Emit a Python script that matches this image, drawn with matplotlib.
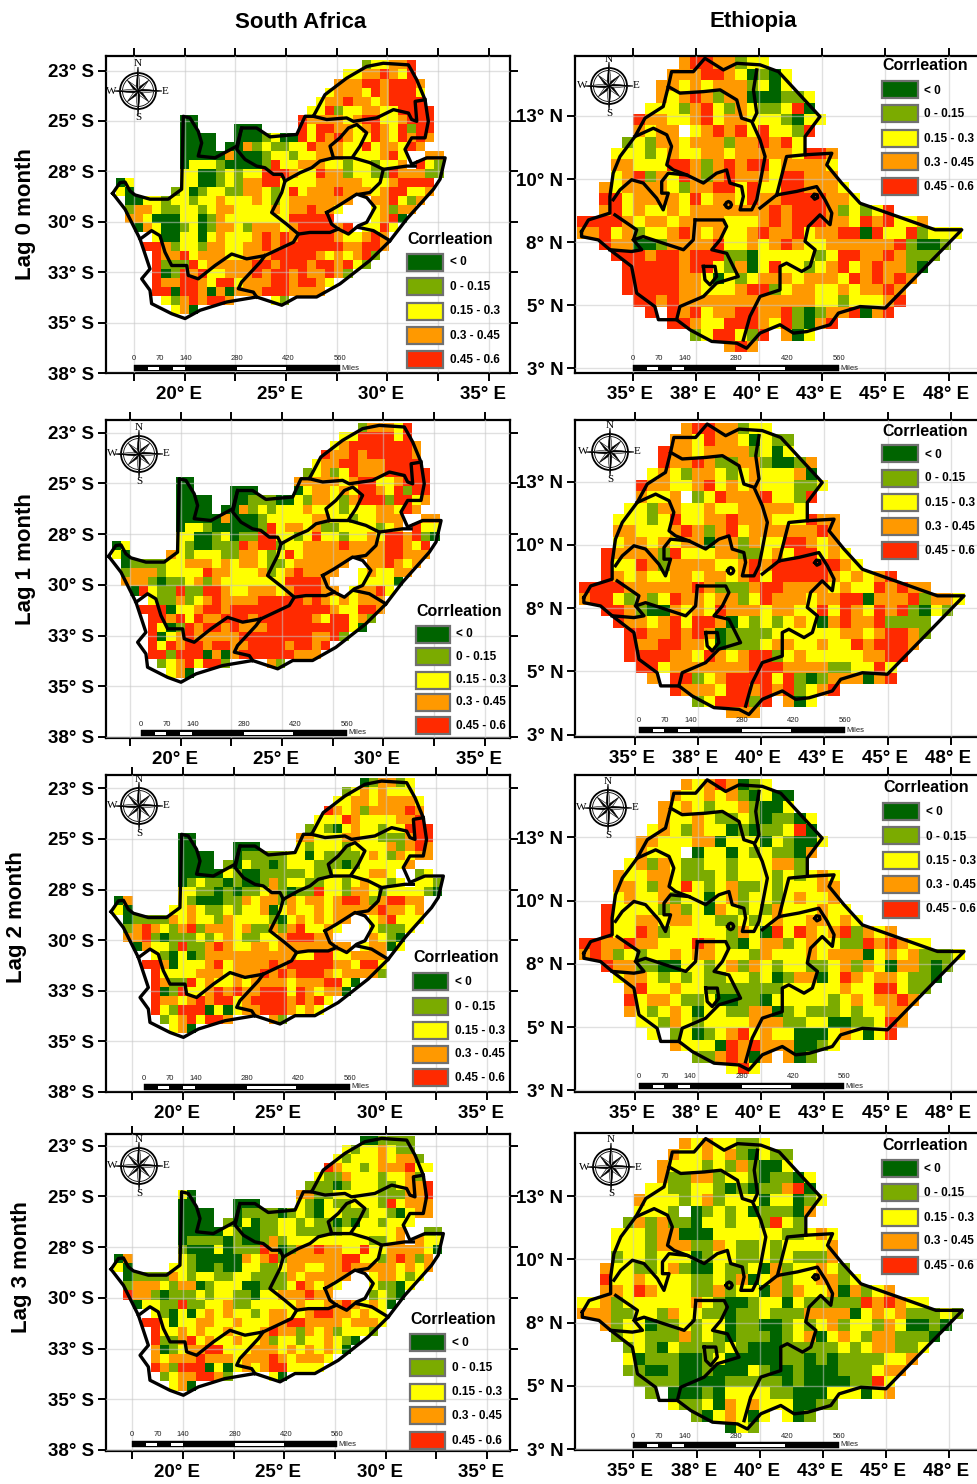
import numpy as np
import matplotlib
matplotlib.use("Agg")
import matplotlib.pyplot as plt
from matplotlib.colors import ListedColormap, BoundaryNorm
from matplotlib.patches import Rectangle, Circle, Polygon
from matplotlib.transforms import ScaledTranslation

plt.rcParams['font.family'] = ['Liberation Sans', 'DejaVu Sans']

W, H = 977, 1484

# correlation classes, one letter per cell
CLASSES = "dgyor"
CLASS_COLORS = ["#006400", "#7BAB00", "#FFFF00", "#FF9900", "#FF2A00"]
CLASS_LABELS = ["< 0", "0 - 0.15", "0.15 - 0.3", "0.3 - 0.45", "0.45 - 0.6"]
LEGEND_TITLE = "Corrleation"

CELL = 0.449  # degrees
SA_LON0, SA_LAT0 = 16.61, -22.0
ETH_LON0, ETH_LAT0 = 32.78, 14.82

# first filled column of every row
SA_START = [27, 25, 24, 23, 22, 21, 7, 7, 7, 7, 7, 7, 7, 0, 0, 1, 1, 1, 2, 4, 3, 4, 4, 4, 4, 4, 5, 6]
ETH_START = [9, 8, 7, 7, 6, 5, 5, 4, 3, 3, 3, 2, 2, 2, 0, 0, 2, 3, 4, 4, 4, 5, 6, 8, 10, 13]

SA_LAG0 = [
    "gyyoor", "yyooroyr", "ooorrorrro", "yoooyrorrry", "yoorooyorrrr", "yyrgyyooyyrrrr",
    "dd...........rooooyorryyorrr",
    "dd....ddd....ryrrooyoroyrgrr",
    "dddd..dddgyddryroroyyroyroro",
    "dddd.ddogyggyyroooyyryooyro",
    "dddddodddgyygyyoooyyyyory..oo",
    "dyyygddddgryyoooyygyygyyo.ryg",
    "yyddgygyyrrroyyroogyyggrooogg",
    "dy.....yyddgygoorryyyyoooooyyyorrrr",
    "yd....gydgyyggooygyryoooroooyorryyo",
    "ddyygyygyyoyyyoygyooooooo..oorygo",
    "gooyggyygyooyyyyoyoorooy...yogoo",
    "ooydddyydgoyyyyyyyrrrrr....yord",
    "doyddgydgooygoooyorrrror.yyry",
    "yddyydyoyyyorororrrroyyoro",
    "rrogyygooyyoororrrrrrroorro",
    "rooryoooyyooorrrrroyoyorg",
    "rgggryooooorrorrrorroryg",
    "rdgroryyooororroroorog.",
    "roorroyrryooorrorroy",
    "rrdrrododooorrroooo",
    "ygororro....yg",
    "yod",
]
SA_LAG1 = [
    "goooyr", "yyrrrryr", "yorrrrrrro", "roororrrrro", "yoorrooorrrr", "gyogyrooorrrrr",
    "dd...........oooooyorryyorrr",
    "dd....ddd....dyooyoyrroyrgrr",
    "dddd..ddgggddygooygorrrgrryo",
    "dddd.ddogygyyyoyyygyyyooyro",
    "dddddodddgyyyyyooyygyyooo..oo",
    "dyygdddddgryooyoggyyyygyo.ryy",
    "yyddgydggrryygyryygyyoyrrorgd",
    "dy.....ygddgggrorrgyyooooroooorroyr",
    "yd....oygyyyggooygyryooooooooorrooo",
    "dggggyyoooyoyooyggyoooooo..ooroyo",
    "gooogyyyyrooyyyogyoroooo..yoyyoo",
    "ooogdggyogoyyyyyyyrrrro...yyyyd",
    "dryggrggrroyyoooyorrroo.yoory",
    "yggogyoroooorrrrroroyoyooo",
    "rrrdyyorrorrrrrrrrrrroyyrro",
    "rroryroorrrorrrrrroyrryog",
    "rydgrorrorooorrrrrrrrryd",
    "rdyorooooorrrrrrrroorg.",
    "ryrorrorroorrrrorror",
    "rrgrrrdodorrrrrrooo",
    "gyoryrrg....og",
    "yod",
]
SA_LAG2 = [
    "dgoogy", "gyoyoyyy", "yyooyooooy", "royogooooro", "yyyroyyyyoor", "gygdyoyygyyrrr",
    "dd...........ooyyyooyygggorr",
    "dd....ddd....ygyyygyyyyogoro",
    "dddd..dgggggyydyggggyoygoyoo",
    "dddd.gdyggdgyyygggdgyyyyyo.",
    "dddddygddgggggyggyyyyooy..gy",
    "dgyggdgddgogyyggyygyoyygy.yyg",
    "yyggdgdggyogdggryygooygyyyygd",
    "do.....ygdddggoyoogoyooyorrogorroo",
    "yd....yyoyggygyyodyoyyoyooooorooyo",
    "dggggoyoyygoyyyygdyoyoyoo..yoryyy",
    "goroygorgoooyoggogoryyoy...ygggy",
    "oorgdgggygyoyggyyorrroo....oygd",
    "doyygrggoroyyooyoooooooo.yoody",
    "ygdydgooooooooooyyrryyoooo",
    "rrodyyyoryoooororrrrrooyrry",
    "ryyyyoooyooorororrroyoooog",
    "roggryoyyoyooooyooorryd.",
    "rdgryyororoorrryroyood.",
    "rooyororryorrrrorory",
    "rygrrrdydyoorrroyoy",
    "gyoryrro....og",
    "yod",
]
SA_LAG3 = [
    "ddgggg", "ygyyoygg", "ygyyyoyoog", "royygyoooryy", "yggoyyygyyog", "gggdgyyyggyoor",
    "yd...........ooggyyyyygggoor",
    "dd....ddd....ygdyggyyygryooo",
    "dddd..dggggdgygdyygggyygdyoo",
    "dddd.gdydggyygyggdgdyygyyy.",
    "dddddygddggyygggggyyyyyyo..gg",
    "dggggdgddgogyyyyyyyyyggyo.oyy",
    "gdddydgggrodgoorooyyryyooooyd",
    "do.....ygdddddoyorgoooooorryygorogo",
    "yd....yygddgddyyggyooyyooroooooyoyo",
    "dggggoygyyggyyggggoyooooo..yooygy",
    "goooygoodgyyyddgggyroyoy...yggdy",
    "roogdgggygyyggdyyoooroo....gygd",
    "dyyggrggyyoggyyyyyoyyooroyoyd",
    "ygdydyoyoyygyooyyorrooyoyy",
    "rrydyyooyyoyyyoorrooooyoooy",
    "ryyoyoyyoyyyoroogoyogyyyg",
    "rggoryoyyoyyogyygyyoygd.",
    "odgyoorryyyoooyoyoyoyd.",
    "oyooorooo" "yooor" "oyoooy",
    "rogrrrdydyoyorryyyy",
    "gyoorrog....yd",
    "yod",
]

ETH_LAG0 = [
    "orroogyy", "ooorroydgdy", "ooyoyooogydy", "oyorogoodddggy", "yyygorygoyggyrd",
    "rooyyoryooyyygdyy", "oyoo.yororyryygr", "gygooyooogoorory", "yyygyoyyooyoooooyrro",
    "ooyyyrrogororryooooy", "yorgoyrogoroooyrrooo", "oyooooygoorryryyrroooy",
    "rryooooyryooyroorrrrooy", "oryoyyoyooooooororrrogygyr",
    "rrrroyooyooooyyyororrrooyroryyo",
    "ooryogyyoroyoyyorooryoorrdryyrgyyy",
    "rooddgooooryyoyoroyyoooooorgddg",
    "rrrorrorrrggdyyyyygyrroorоggg".replace("о", "o"),
    "rrrrrorrygodyryygyoryoroogd",
    "rrrrrooydygyoooyoooyrororo",
    "rrrrrooyyyorrgyooyyoyooro",
    "rrorooooooooooooyygyyyor",
    "r.roryoorroorgdgoordor",
    "rroyyrrroyrgdor",
    "gyrrygr.ody",
    "oro",
]
ETH_LAG1 = [
    "orroogyy", "ooyrooydygg", "rooyoooogydy", "rooroggoogddgo", "yoygooygyoyyyod",
    "rooyyoryoyoyyyggy", "oyyo.gyroooryygr", "yygooyyoyyoooooy",
    "yyygyryyoorоooyyyroo".replace("о", "o"),
    "ooyyyorogoryooooooro",
    "yooyoyoodoogoyyrroyo",
    "roooogryyyooggyoyrryoy",
    "ryyrogooooyyororrrrrroy",
    "royoyyooyooyoryrrrrroyoyor",
    "rrrroooooorogggorrooooyoyyroroo",
    "orrygogyrooyoogyroooyoorrdooorgooy",
    "rrogddoyoyroooyooyyryroyrorgdyg",
    "rooyoryrrodygygyoydoroorgggg.",
    "rroororodggggyyyyyyooyorrog",
    "roorrooydgggyooyyoyyrorrro",
    "rrrrooyroyorrgyoyyyyyoorr",
    "rryooooooorrrooooggyyry",
    "o.rrgyorrrryrgdgooodor",
    "roooyrrorоrgyor".replace("о", "o"),
    "gyrrrgr.ody",
    "ooo",
]
ETH_LAG2 = [
    "oyorodgy", "oyyoyogdydd", "oyoygyyogddy", "oyyoyggygdggdy", "yoygoyydgdggyrd",
    "ooyyyoodyyydygddy", "oyyy.dyydygyggdo", "yogoyggyygyyyoog", "oyyooygggygyyygygyoy",
    "ooygoyrygyoggygyyyoo", "yoyyogyydyogyygyoyyo", "ryyyygogydoygygoyyyoyy",
    "ryyooyooyyggygyoyyooyoy", "ryyrogyyyyygoydryroyorgoyo",
    "rroorooyyyroygdyoogyoyyggroroyy",
    "orogygyyoyooyyygoyyyoyooodyoyogggy",
    "rooggddyygyogoygyyggyogoydoogdg",
    "yooygygyggyygydgoodyroyooyggd",
    "oryyoyygggggggyyyyyoyyrrygg",
    "ryooyggyddggdyyyyygyoyooro",
    "oygyoydyyggoodgygggygyyoo",
    "yygoygyyyyoooggyyddggyro",
    "y.gydgyoryoyydddyoydyr",
    "oyyydroroooddgy",
    "ggorodo.odg",
    "yry",
]
ETH_LAG3 = [
    "oyoyyggy", "oyyoyogdygg", "oyyygygogddy", "oggoogyygdggdy", "yyggyygdgdggord",
    "oyyygyogyyydyydgy", "yyyg.dgygydgggdo", "gogoggdyygyygryg",
    "yyygoodddyyyyyyggyoy",
    "yyygoooggoyggygyyyyo",
    "gyygyyydgyyggygygggo",
    "oyyggyogddyggydogyyoyg",
    "ryyoyyyyggygodyogyyoogy",
    "ooyroyyyggogyydogoyyodogyo",
    "yyogyyyyyyoygddgyydygggggroroyy",
    "oooggyygoyyggdggyggg" "oooodyoyogggyg",
    "ogyydggygyydggddgygyogyygoyddgd",
    "gyygggogygdgggdgyodyoygoogggd",
    "gygdyggggygdddgggggygyooggy",
    "ydgggddgydddddggdgdggggyyoo"[:26],
    "ggddgddgdddygddgdddgggyoo",
    "ggggddddgggggdgddddggry",
    "g.dddgdyyyyggdddyyydyo",
    "yggydoyoyyyddgg",
    "gdyoydy.ydg",
    "dyg",
]

SA_GRIDS = [SA_LAG0, SA_LAG1, SA_LAG2, SA_LAG3]
ETH_GRIDS = [ETH_LAG0, ETH_LAG1, ETH_LAG2, ETH_LAG3]

SA_OUTER = [(16.45, -28.59), (16.81, -28.06), (17.06, -28.03), (17.30, -28.47), (17.55, -28.67), (18.29, -28.88),
            (19.19, -28.88), (19.85, -28.39), (19.93, -24.77), (20.26, -24.85), (20.67, -25.51), (20.84, -26.09),
            (20.67, -26.74), (21.50, -26.83), (22.57, -26.25), (22.81, -25.35), (23.55, -25.35), (24.21, -25.79),
            (25.53, -25.67), (25.94, -24.77), (26.35, -24.77), (26.92, -23.70), (27.99, -22.88), (28.98, -22.30),
            (29.80, -22.14), (31.04, -22.22), (31.45, -22.96), (31.86, -23.95), (32.02, -25.02), (31.86, -25.84),
            (31.20, -25.84), (30.87, -26.41), (31.20, -27.15), (31.94, -26.83), (32.85, -26.83), (32.60, -27.89),
            (32.27, -28.39), (31.61, -29.13), (30.95, -29.87), (30.13, -30.94), (29.14, -31.92), (27.66, -33.08),
            (26.51, -33.73), (25.53, -33.73), (24.79, -34.14), (23.55, -33.73), (22.07, -33.98), (20.76, -34.39),
            (20.02, -34.80), (19.36, -34.56), (18.37, -34.06), (18.29, -33.40), (17.88, -32.83), (18.29, -32.34),
            (17.80, -30.86), (17.06, -29.38), (16.45, -28.59)]
SA_LINES = [
    [(26.35, -24.77), (27.01, -24.93), (27.99, -24.85), (28.32, -25.02), (29.47, -24.85), (30.30, -24.44),
     (31.04, -24.61), (31.20, -24.93), (31.45, -25.02), (31.37, -24.03), (31.86, -23.95)],
    [(22.81, -25.35), (22.65, -26.09), (22.57, -26.41), (22.98, -26.91), (23.55, -27.24), (23.96, -27.32),
     (24.38, -27.65), (24.79, -27.65), (24.95, -27.98)],
    [(24.95, -27.98), (25.69, -27.57), (26.27, -27.32), (26.68, -26.99), (27.34, -26.83), (27.83, -26.83),
     (28.32, -26.83), (29.14, -27.07), (29.80, -27.40), (29.64, -28.06), (29.14, -28.55), (28.65, -28.63)],
    [(29.80, -27.40), (30.95, -27.24), (31.37, -27.24)],
    [(27.34, -26.83), (27.17, -26.25), (27.66, -25.84), (28.08, -25.35), (28.49, -25.18), (28.98, -25.59),
     (28.65, -26.25), (28.32, -26.74)],
    [(24.95, -27.98), (24.79, -28.55), (24.29, -29.54), (25.03, -30.12), (25.61, -30.61), (26.18, -30.53),
     (27.17, -30.53), (27.58, -30.36)],
    [(27.01, -29.54), (27.58, -29.21), (28.49, -28.63), (28.98, -28.80), (29.39, -29.29), (28.98, -30.03),
     (28.57, -30.20), (28.08, -30.61), (27.58, -30.36), (27.25, -30.12), (27.01, -29.54)],
    [(17.80, -30.86), (18.37, -30.44), (18.78, -30.69), (19.03, -31.51), (19.36, -32.17), (20.10, -32.17),
     (20.18, -32.66), (20.67, -32.83), (21.50, -32.17), (22.32, -31.60), (23.06, -31.84), (23.96, -31.68),
     (25.36, -31.02), (25.61, -30.61)],
    [(23.96, -31.68), (23.72, -32.01), (22.81, -32.99), (22.65, -33.32), (23.39, -33.49), (23.55, -33.73)],
    [(28.57, -30.28), (29.31, -30.44), (30.13, -30.94)],
]
ETH_OUTER = [(32.98, 7.92), (33.25, 8.38), (34.10, 8.65), (34.10, 9.31), (34.23, 10.23), (34.50, 10.89), (35.09, 11.68),
             (35.49, 12.41), (36.21, 12.87), (36.41, 13.66), (36.54, 14.25), (37.40, 14.25), (37.86, 14.78),
             (38.59, 14.32), (39.12, 14.58), (40.04, 14.52), (40.77, 14.25), (42.41, 12.47), (41.82, 11.68),
             (41.82, 10.96), (42.88, 11.02), (42.68, 10.56), (43.27, 9.84), (44.00, 9.04), (46.97, 7.99), (48.02, 7.99),
             (44.99, 4.89), (44.00, 4.95), (43.14, 4.69), (42.81, 4.23), (41.89, 3.96), (41.36, 3.90), (40.83, 4.23),
             (40.04, 3.90), (39.51, 3.30), (39.12, 3.50), (38.13, 3.57), (37.27, 4.03), (36.74, 4.43), (36.02, 4.43),
             (35.88, 4.95), (35.16, 5.48), (34.96, 6.54), (34.10, 7.20), (33.64, 7.59), (32.98, 7.72), (32.98, 7.92)]
ETH_LINES = [
    [(36.41, 13.66), (36.87, 13.40), (37.80, 13.46), (38.46, 13.53), (39.12, 13.13), (39.31, 12.41), (39.71, 12.28),
     (40.04, 11.55), (40.24, 10.89), (40.04, 9.84), (39.91, 9.18), (39.71, 8.78), (39.25, 8.78), (39.38, 9.31),
     (39.31, 9.70), (38.85, 9.84), (38.72, 10.36), (38.32, 10.23), (37.80, 9.84), (37.14, 10.16), (36.41, 10.23),
     (36.15, 9.90), (36.15, 9.44), (36.41, 9.44), (36.21, 8.78), (35.95, 9.24), (35.42, 9.84), (34.96, 9.97),
     (34.50, 9.57), (34.23, 9.18)],
    [(35.09, 11.68), (35.82, 12.01), (36.35, 11.75), (36.54, 11.29), (36.35, 10.56), (36.61, 10.36), (37.14, 10.16)],
    [(39.91, 14.32), (39.78, 13.53), (39.91, 12.61), (39.78, 12.34)],
    [(40.04, 8.85), (40.70, 9.37), (41.49, 9.51), (42.28, 9.70), (42.61, 9.18), (42.88, 8.65), (42.81, 8.19),
     (42.41, 8.58), (41.95, 8.12), (41.82, 7.53), (42.22, 7.20), (42.02, 6.54), (41.69, 6.34), (41.09, 6.67),
     (40.83, 6.54), (40.83, 5.61), (40.04, 5.35), (39.64, 4.56), (39.38, 3.63)],
    [(40.70, 9.37), (41.09, 10.89), (41.82, 10.96)],
    [(37.47, 8.38), (38.59, 8.38), (38.72, 8.12), (38.46, 7.59), (38.13, 7.20), (38.72, 7.06), (39.18, 6.14),
     (38.32, 5.88), (37.80, 5.35), (36.87, 4.95), (36.74, 4.43)],
    [(37.47, 8.38), (37.40, 7.59), (37.01, 7.20), (36.21, 7.46), (35.42, 7.72), (35.03, 7.59), (35.16, 7.99),
     (34.30, 8.58)],
    [(35.03, 7.59), (35.36, 7.20), (34.96, 7.13), (34.10, 7.20)],
    [(37.80, 6.54), (38.26, 6.54), (38.32, 6.14), (38.06, 5.81), (37.86, 6.01), (37.80, 6.54)],
    [(38.67, 8.98), (38.71, 9.07), (38.79, 9.11), (38.87, 9.07), (38.91, 8.98), (38.87, 8.89), (38.79, 8.85),
     (38.71, 8.89), (38.67, 8.98)],
    [(42.12, 9.30), (42.18, 9.40), (42.30, 9.38), (42.32, 9.26), (42.20, 9.20), (42.12, 9.30)],
]

SA_XTICKS = [17.5, 20, 22.5, 25, 27.5, 30, 32.5, 35]
SA_XLABELS = ["", "20° E", "", "25° E", "", "30° E", "", "35° E"]
SA_YTICKS = [-22.5, -25, -27.5, -30, -32.5, -35, -37.5]
SA_YLABELS = ["23° S", "25° S", "28° S", "30° S", "33° S", "35° S", "38° S"]
ETH_XTICKS = [35, 37.5, 40, 42.5, 45, 47.5]
ETH_XLABELS = ["35° E", "38° E", "40° E", "43° E", "45° E", "48° E"]
ETH_YTICKS = [12.5, 10, 7.5, 5, 2.5]
ETH_YLABELS = ["13° N", "10° N", "8° N", "5° N", "3° N"]

ROW_TITLES = ["Lag 0 month", "Lag 1 month", "Lag 2 month", "Lag 3 month"]
ROW_TITLE_POS = [(25, 214), (25, 559), (17, 917), (22, 1267)]

# frame in pixels: left, top, right, bottom; map limits: west, east, south, north
SA_FRAMES = [(106, 56, 510, 373), (106, 420, 510, 738), (106, 775, 510, 1092), (106, 1134, 510, 1451)]
SA_LIMITS = [(16.12, 36.05, -37.5, -21.78), (16.32, 36.25, -37.55, -21.875),
             (16.20, 36.14, -37.5, -21.84), (16.20, 36.14, -37.55, -21.92)]
ETH_FRAMES = [(575, 56, 985, 373), (575, 420, 985, 737), (575, 775, 985, 1092), (575, 1133, 985, 1450)]
ETH_LIMITS = [(32.72, 48.94, 2.32, 14.87), (32.63, 48.85, 2.41, 14.94),
              (32.63, 48.85, 2.43, 14.97), (32.69, 48.91, 2.47, 15.0)]

# legend: swatch left, swatch right, text left, title y, swatch tops, text centres
SA_LEGENDS = [
    (407, 443, 450, 239, [254, 278, 303, 327, 351], [262, 287, 311, 336, 360]),
    (416, 450, 456, 611, [626, 648, 672, 694, 717], [634, 657, 680, 702, 726]),
    (413, 448, 455, 958, [973, 998, 1022, 1046, 1069], [982, 1007, 1031, 1054, 1078]),
    (410, 445, 452, 1320, [1334, 1359, 1384, 1407, 1432], [1343, 1368, 1392, 1416, 1441]),
]
ETH_LEGENDS = [
    (882, 918, 924, 66, [81, 105, 130, 153, 178], [91, 114, 139, 163, 187]),
    (882, 918, 925, 431, [445, 470, 494, 518, 542], [455, 478, 503, 527, 551]),
    (883, 919, 926, 788, [803, 827, 852, 876, 901], [812, 837, 861, 885, 909]),
    (882, 918, 924, 1145, [1160, 1184, 1209, 1233, 1257], [1169, 1193, 1218, 1241, 1266]),
]
SA_COMPASS = [(138, 91), (139, 454), (139, 806), (139, 1166)]
ETH_COMPASS = [(609, 86), (610, 452), (608, 808), (611, 1167)]
# scale bar: left, right, top
SA_SCALE = [(134, 340, 365), (141, 347, 730), (144, 350, 1084), (132, 337, 1441)]
ETH_SCALE = [(633, 839, 365), (639, 845, 727), (639, 844, 1083), (633, 839, 1442)]
SCALE_MILES = ["0", "70", "140", "280", "420", "560"]
SCALE_POS = [0, 0.125, 0.25, 0.5, 0.75, 1.0]
SCALE_WHITE = [(0.07, 0.123), (0.19, 0.248), (0.5, 0.74)]

cmap = ListedColormap(CLASS_COLORS)
norm = BoundaryNorm(np.arange(-0.5, 5.5, 1), cmap.N)


def to_cells(rows, starts, ncols):
    grid = np.full((len(rows), ncols), np.nan)
    for r, (row, start) in enumerate(zip(rows, starts)):
        for k, ch in enumerate(row):
            if ch in CLASSES and start + k < ncols:
                grid[r, start + k] = CLASSES.index(ch)
    return np.ma.masked_invalid(grid)


def draw_map(frame, limits, rows, starts, ncols, lon0, lat0, outer, lines,
             xticks, xlabels, yticks, ylabels, xshift):
    l, t, r, b = frame
    ax = fig.add_axes([l / W, 1 - b / H, (r - l) / W, (b - t) / H])
    cells = to_cells(rows, starts, ncols)
    xedges = lon0 + CELL * np.arange(ncols + 1)
    yedges = lat0 - CELL * np.arange(len(rows) + 1)
    ax.pcolormesh(xedges, yedges, cells, cmap=cmap, norm=norm, zorder=1)
    ax.set_xlim(limits[0], limits[1])
    ax.set_ylim(limits[2], limits[3])
    ax.set_xticks(xticks)
    ax.set_xticklabels(xlabels, fontweight='bold')
    ax.set_yticks(yticks)
    ax.set_yticklabels(ylabels, fontweight='bold')
    ax.tick_params(top=True, right=True, length=5.5, width=1.4, labelsize=13.5, pad=3)
    ax.tick_params(axis='x', pad=4)
    ax.grid(True, color='#c8c8c8', lw=1, alpha=0.55, zorder=2)
    ax.set_axisbelow(False)
    ax.plot(*zip(*outer), color='k', lw=2.4, solid_joinstyle='round', zorder=3)
    for line in lines:
        ax.plot(*zip(*line), color='k', lw=2.4, solid_joinstyle='round', zorder=3)
    for side in ax.spines.values():
        side.set_linewidth(1.6)
    offset = ScaledTranslation(xshift / 100, 0, fig.dpi_scale_trans)
    for lab in ax.get_xticklabels():
        lab.set_transform(lab.get_transform() + offset)
    return ax


def draw_legend(ov, spec):
    x0, x1, tx, ty, tops, mids = spec
    ov.text(x0, ty, LEGEND_TITLE, fontsize=11.5, fontweight='bold', va='center', ha='left')
    for top, mid, col, lab in zip(tops, mids, CLASS_COLORS, CLASS_LABELS):
        ov.add_patch(Rectangle((x0, top), x1 - x0, 17, fc=col, ec='#707070', lw=1.6))
        ov.text(tx, mid, lab, fontsize=8.5, fontweight='bold', va='center', ha='left')


def draw_compass(ov, cx, cy):
    ov.add_patch(Circle((cx, cy), 18, fc='white', ec='k', lw=1.3))
    ov.add_patch(Circle((cx, cy), 15.5, fc='white', ec='k', lw=0.6))
    for k in range(8):
        a = k * np.pi / 4
        reach = 24 if k % 2 == 0 else 15
        tip = (cx + reach * np.sin(a), cy - reach * np.cos(a))
        for side, col in ((-1, 'k'), (1, 'white')):
            b = a + side * np.pi / 8
            base = (cx + 5 * np.sin(b), cy - 5 * np.cos(b))
            ov.add_patch(Polygon([(cx, cy), tip, base], fc=col, ec='k', lw=0.4))
    for lab, dx, dy in (("N", 0, -27), ("S", 0, 27), ("W", -27, 0), ("E", 27, 0)):
        ov.text(cx + dx, cy + dy, lab, fontsize=8, family='Liberation Serif', ha='center', va='center')


def draw_scale(ov, left, right, top):
    width = right - left
    ov.add_patch(Rectangle((left, top), width, 6, fc='k', ec='k', lw=0.3))
    for a, b in SCALE_WHITE:
        ov.add_patch(Rectangle((left + a * width, top + 2), (b - a) * width, 2.5, fc='white', ec='none'))
    for lab, p in zip(SCALE_MILES, SCALE_POS):
        ov.text(left + p * width, top - 6, lab, fontsize=5.5, ha='center', va='center', color='#222222')
    ov.text(right + 1, top + 3, "Miles", fontsize=5.5, ha='left', va='center', color='#222222')


fig = plt.figure(figsize=(W / 100, H / 100), dpi=100)

for i in range(4):
    draw_map(SA_FRAMES[i], SA_LIMITS[i], SA_GRIDS[i], SA_START, 36, SA_LON0, SA_LAT0, SA_OUTER, SA_LINES,
             SA_XTICKS, SA_XLABELS, SA_YTICKS, SA_YLABELS, -6)
    draw_map(ETH_FRAMES[i], ETH_LIMITS[i], ETH_GRIDS[i], ETH_START, 34, ETH_LON0, ETH_LAT0, ETH_OUTER, ETH_LINES,
             ETH_XTICKS, ETH_XLABELS, ETH_YTICKS, ETH_YLABELS, -3)

# pixel overlay for the legends, compass roses and scale bars
ov = fig.add_axes([0, 0, 1, 1], zorder=5)
ov.set_xlim(0, W)
ov.set_ylim(H, 0)
ov.axis('off')

for i in range(4):
    draw_legend(ov, SA_LEGENDS[i])
    draw_legend(ov, ETH_LEGENDS[i])
    draw_compass(ov, *SA_COMPASS[i])
    draw_compass(ov, *ETH_COMPASS[i])
    draw_scale(ov, *SA_SCALE[i])
    draw_scale(ov, *ETH_SCALE[i])
    ov.text(ROW_TITLE_POS[i][0], ROW_TITLE_POS[i][1], ROW_TITLES[i], rotation=90, fontsize=16,
            fontweight='bold', ha='center', va='center')

ov.text(301, 22, "South Africa", fontsize=16, fontweight='bold', ha='center', va='center')
ov.text(753, 22, "Ethiopia", fontsize=16, fontweight='bold', ha='center', va='center')

fig.savefig("out.png", dpi=100)
